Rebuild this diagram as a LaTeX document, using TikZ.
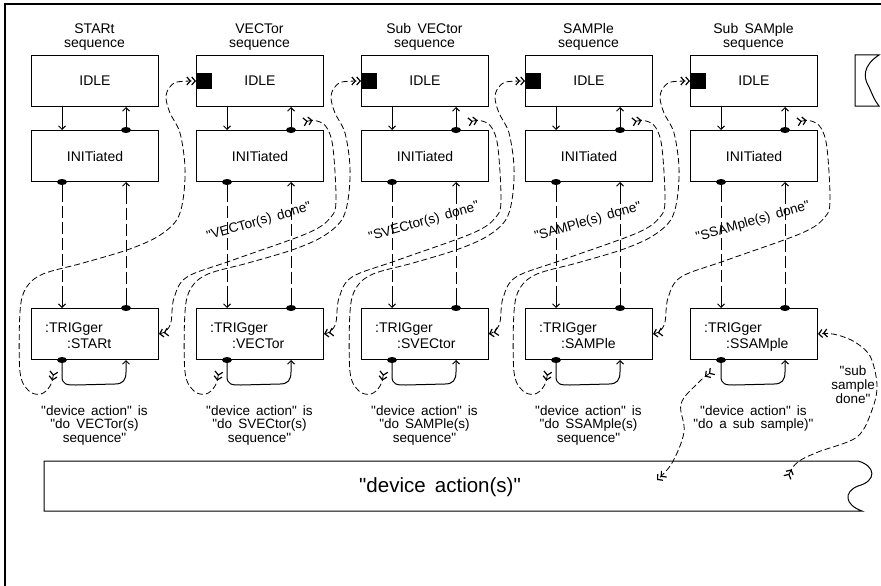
\documentclass[tikz,border=0pt]{standalone}
\usepackage{fontspec}
\setmainfont{Liberation Sans}[Ligatures=TeXOff]
\usetikzlibrary{arrows.meta,calc,shapes.geometric}
\newcommand\fsz[1]{\fontsize{#1}{#1}\selectfont}
\newcommand\ws{\hspace{0.45em}}
\begin{document}
\begin{tikzpicture}[x=1pt,y=-1pt,
  box/.style={draw,line width=1pt,minimum width=127pt,minimum height=51pt,inner sep=0pt,anchor=north west,font=\fsz{14}},
  txt/.style={inner sep=0pt,anchor=base,font=\fsz{14}},
  lbl/.style={inner sep=0pt,anchor=base,font=\fsz{13.5}},
  dot/.style={ellipse,fill,inner sep=0pt,minimum width=10pt,minimum height=6pt},
  sqr/.style={fill,inner sep=0pt,minimum size=16pt,anchor=west},
  flow/.style={line width=1pt,-{Straight Barb[length=3.5pt,width=7pt]}},
  vline/.style={line width=1pt,dash pattern=on 20pt off 4pt on 12pt off 4pt on 12pt off 4pt on 12pt off 4pt on 12pt off 4pt on 12pt off 4pt on 40pt},
  dcurve/.style={line width=0.8pt,dash pattern=on 6pt off 3pt,
     {Straight Barb[reversed,length=3.5pt,width=8pt,line width=1.2pt]Straight Barb[reversed,length=3.5pt,width=8pt,line width=1.2pt]}-{Straight Barb[length=3.5pt,width=8pt,line width=1.2pt]Straight Barb[length=3.5pt,width=8pt,line width=1.2pt]}},
]
\useasboundingbox (0,0) rectangle (881,586);
\draw[line width=1.1pt] (5,586) -- (5,4) -- (881,4);

% columns
\foreach \i/\x/\tA/\trg in {1/31/STARt/STARt, 2/196/VECTor/VECTor, 3/361/Sub\ws VECtor/SVECtor, 4/525/SAMPle/SAMPle, 5/690/Sub\ws SAMple/SSAMple}{
  \node[txt] (ttl\i) at (\x+63.5,34) {\tA};
  \node[txt] (seq\i) at (\x+63.5,47.5) {sequence};
  \node[box] (idle\i) at (\x,55) {IDLE};
  \node[box] (init\i) at (\x,130) {INITiated};
  \node[box] (trig\i) at (\x,308) {};
  \node[txt,anchor=base west] (tg\i) at (\x+14,332) {:TRIGger};
  \node[txt,anchor=base west] (tn\i) at (\x+36,348) {:\trg};
  \coordinate (ta\i) at ($(trig\i.south west)+(23,11)$);
  \draw[flow] ($(idle\i.south west)+(31,0)$) -- ($(init\i.north west)+(31,0)$);
  \draw[flow] ($(init\i.north west)+(95,0)$) -- ($(idle\i.south west)+(95,0)$);
  \draw[vline,-{Straight Barb[length=3.5pt,width=7pt]}] ($(init\i.south west)+(31,0)$) -- ($(trig\i.north west)+(31,0)$);
  \draw[vline,-{Straight Barb[length=3.5pt,width=7pt]}] ($(trig\i.north west)+(95,0)$) -- ($(init\i.south west)+(95,0)$);
  \draw[flow] ($(trig\i.south west)+(31,0)$) -- (\x+31,376) .. controls (\x+31,385) and (\x+36,385) .. (\x+45,385) -- (\x+84,384) .. controls (\x+92,384) and (\x+95,380) .. (\x+95,372) -- ($(trig\i.south west)+(95,0)$);
  \node[dot] (d1\i) at ($(init\i.north west)+(95,0)$) {};
  \node[dot] (d2\i) at ($(init\i.south west)+(31,0)$) {};
  \node[dot] (d3\i) at ($(trig\i.north west)+(95,0)$) {};
  \node[dot] (d4\i) at ($(trig\i.south west)+(31,0)$) {};
}
\foreach \i in {2,3,4,5}{ \node[sqr] (sq\i) at (idle\i.west) {}; }

% curves A: trigger of column i starts column j
\foreach \i/\x/\j/\X in {1/31/2/196, 2/196/3/361, 3/361/4/525, 4/525/5/690}{
  \draw[dcurve] plot[smooth,tension=0.55] coordinates {(ta\i) (\x+19,386) (\x+10,394) (\x-2,391) (\x-11,372) (\x-11,312) (\x-5,288) (\x+12,274) (\x+52,263) (\X-69,250) (\X-39,237) (\X-20,221) (\X-13,200) (\X-11,167) (\X-16,133) (\X-26,113) (\X-30,98) (\X-27,88) (\X-19,82) (sq\j.west)};
}
% curves B: column j done -> trigger of column i
\foreach \i/\j/\X/\lab in {1/2/196/VECTor(s)\ws done, 2/3/361/SVECtor(s)\ws done, 3/4/525/SAMPle(s)\ws done, 4/5/690/SSAMple(s)\ws done}{
  \coordinate (tb\j) at ($(init\j.north west)+(107,-8)$);
  \draw[dcurve] plot[smooth,tension=0.55] coordinates {(tb\j) (\X+121,121) (\X+131,128) (\X+137,148) (\X+140,200) (\X+135,217) (\X+112,233) (\X+37,260) (\X-9,277) (\X-22,298) (\X-25,322) (\X-30,331) (trig\i.east)};
  \node[txt,anchor=center,rotate=16,font=\fsz{13.5}] (lb\j) at (\X+63,222) {"\lab"};
}

% device action labels
\foreach \i/\x/\d in {1/31/VECTor(s), 2/196/SVECtor(s), 3/361/SAMPle(s), 4/525/SSAMple(s)}{
  \node[lbl] (da\i) at (\x+63.5,415) {"device\ws action"\ws is};
  \node[lbl] (db\i) at (\x+63.5,428.5) {"do\ws \d};
  \node[lbl] (dc\i) at (\x+63.5,442) {sequence"};
}
\node[lbl] (da5) at (753.5,415) {"device\ws action"\ws is};
\node[lbl] (db5) at (753.5,428.5) {"do\ws a\ws sub\ws sample)"};

% partial box at right
\draw[line width=1pt] (855,55) -- (879,55) .. controls (862,66) and (864,78) .. (868,85) .. controls (872,93) and (874,100) .. (879,106) -- (855,106) -- cycle;

% device action bar
\draw[line width=1pt] (44,461) -- (858,461) .. controls (876,466) and (877,481) .. (858,486) .. controls (843,492) and (845,505) .. (862,511) -- (44,511) -- cycle;
\node[inner sep=0pt,font=\fsz{20.5}] (bar) at (440,487) {"device\ws action(s)"};
\coordinate (barin) at (657,480);
\coordinate (barout) at (787,478);

% column 5 trigger -> device action
\draw[dcurve] plot[smooth,tension=0.6] coordinates {(ta5) (697,384) (681,404) (684,432) (672,463) (barin)};
% sub sample done
\draw[dcurve] plot[smooth,tension=0.55] coordinates {(barout) (798,462) (818,452) (857,437) (872,410) (877,385) (870,356) (853,341) (833,334) (trig5.east)};
\node[lbl] (ss1) at (853,375) {"sub};
\node[lbl] (ss2) at (853,389) {sample};
\node[lbl] (ss3) at (853,403) {done"};
\end{tikzpicture}
\end{document}
